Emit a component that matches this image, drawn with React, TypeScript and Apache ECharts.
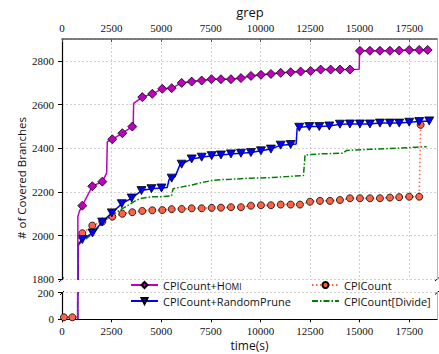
import React, { useEffect, useRef } from "react";
import * as echarts from "echarts";

// ---------- data (time in s, covered branches) ----------
const xMax = 18900;
const xInterval = 2500;
const mainYMin = 1800;
const mainYMax = 2900;
const lowYMin = 0;
const lowYMax = 200;
const yInterval = 200;

const seriesNames = ["CPICount+Homi", "CPICount+RandomPrune", "CPICount", "CPICount[Divide]"];

// points that carry a marker
const homiMarked: number[][] = [
  [1023, 2137], [1527, 2226], [2031, 2247], [2535, 2441], [3039, 2469], [3543, 2499],
  [4046, 2634], [4550, 2649], [5054, 2672], [5528, 2675], [6032, 2699], [6536, 2705],
  [7040, 2710], [7533, 2716], [8012, 2716], [8516, 2716], [9020, 2721], [9524, 2731],
  [10028, 2736], [10532, 2740], [11021, 2745], [11524, 2748], [12028, 2751], [12532, 2754],
  [13036, 2760], [13540, 2760], [14008, 2760], [14512, 2760], [15016, 2846], [15520, 2846],
  [16024, 2846], [16528, 2846], [16996, 2847], [17500, 2850], [18004, 2850], [18427, 2850],
];
// intermediate points of the curve (no marker)
const homiCurve: number[][] = [
  [790, 0], [800, 2087], [880, 2112], [2250, 2286], [2283, 2430],
  [3590, 2505], [3610, 2605], [14980, 2762], [14995, 2842],
];

const pruneMarked: number[][] = [
  [1023, 1982], [1537, 2012], [2026, 2062], [2509, 2104], [3013, 2146], [3512, 2172],
  [4006, 2206], [4510, 2215], [5014, 2218], [5528, 2263], [6032, 2327], [6536, 2351],
  [7040, 2359], [7543, 2366], [8012, 2369], [8516, 2374], [9020, 2377], [9524, 2380],
  [10028, 2388], [10532, 2396], [11021, 2414], [11524, 2417], [11958, 2496], [12462, 2499],
  [12966, 2499], [13470, 2502], [14008, 2510], [14512, 2511], [15016, 2511], [15520, 2511],
  [16024, 2515], [16528, 2515], [16996, 2515], [17500, 2519], [18004, 2522], [18508, 2525],
];
const pruneCurve: number[][] = [
  [790, 0], [810, 1960], [5300, 2220], [5400, 2258], [5700, 2270], [5950, 2325],
  [11800, 2419], [11850, 2490],
];

const countMarked: number[][] = [
  [100, 15], [520, 15], [1023, 2011], [1527, 2046], [2031, 2064], [2535, 2087], [3039, 2100],
  [3543, 2107], [4046, 2113], [4550, 2116], [5054, 2117], [5528, 2121], [6032, 2122],
  [6536, 2125], [7040, 2125], [7543, 2127], [8012, 2128], [8516, 2130], [9020, 2130],
  [9524, 2137], [10028, 2139], [10532, 2139], [11021, 2142], [11524, 2142], [11993, 2142],
  [12497, 2155], [13001, 2159], [13505, 2159], [14008, 2163], [14512, 2171], [15016, 2171],
  [15520, 2171], [16024, 2171], [16528, 2174], [16996, 2176], [17500, 2178], [18004, 2178],
  [18075, 2507],
];
const countCurve: number[][] = [[790, 15], [805, 1990]];

const divideCurve: number[][] = [
  [790, 0], [820, 1955], [1000, 1975], [1250, 1988], [1650, 2018], [2080, 2064],
  [2500, 2092], [2920, 2117], [3350, 2140], [3770, 2163], [4030, 2171], [4530, 2178],
  [5040, 2178], [5520, 2182], [5600, 2215], [6000, 2222], [6560, 2232], [7050, 2243],
  [7550, 2252], [8000, 2256], [8500, 2258], [9500, 2263], [10500, 2265], [11300, 2270],
  [12170, 2275], [12250, 2369], [13000, 2374], [14150, 2377], [14350, 2390], [15530, 2395],
  [16870, 2400], [17870, 2405], [18380, 2407],
];

function merge(marked: number[][], curve: number[][]) {
  const all = [
    ...marked.map((p) => ({ p, m: true })),
    ...curve.map((p) => ({ p, m: false })),
  ].sort((a, b) => a.p[0] - b.p[0]);
  return all.map((d) => (d.m ? { value: d.p } : { value: d.p, symbol: "none" }));
}

const SERIF = '"Liberation Serif", "Times New Roman", serif';
const SANS = '"Open Sans", "Noto Sans", sans-serif';

export default function App() {
  const ref = useRef<HTMLDivElement>(null);
  useEffect(() => {
    if (!ref.current) return;
    const chart = echarts.init(ref.current, undefined, { renderer: "svg" });

    const gridLeft = 62;
    const gridRight = 2;
    const dashed = { show: true, lineStyle: { color: "#c4c4c4", type: [2, 2] as any, width: 0.8 } };
    const tickLabel = { fontFamily: SERIF, fontSize: 11, color: "#111" };
    const xLabelFmt = (v: number) => (v % xInterval === 0 ? String(v) : "");
    const yLabelFmt = (v: number) => String(v);

    const styles = [
      {
        name: seriesNames[0], data: merge(homiMarked, homiCurve), color: "#BF00BF",
        symbol: "diamond", symbolSize: [9, 9], symbolRotate: 0, line: "solid", z: 5,
      },
      {
        name: seriesNames[1], data: merge(pruneMarked, pruneCurve), color: "#0000FF",
        symbol: "triangle", symbolSize: [9, 8], symbolRotate: 180, line: "solid", z: 4,
      },
      {
        name: seriesNames[2], data: merge(countMarked, countCurve), color: "#FF6347",
        symbol: "circle", symbolSize: 7, symbolRotate: 0, line: [1.5, 2.5], z: 3,
      },
      {
        name: seriesNames[3], data: merge([], divideCurve), color: "#008000",
        symbol: "none", symbolSize: 0, symbolRotate: 0, line: [6, 2, 1.5, 2], z: 2,
      },
    ];

    const series: any[] = [];
    [0, 1].forEach((gi) => {
      styles.forEach((s) => {
        series.push({
          type: "line",
          name: s.name,
          xAxisIndex: gi,
          yAxisIndex: gi,
          data: s.data,
          clip: true,
          z: s.z,
          color: s.color,
          symbol: s.symbol,
          symbolSize: s.symbolSize,
          symbolRotate: s.symbolRotate,
          showSymbol: s.symbol !== "none",
          lineStyle: { color: s.color, width: 1.5, type: s.line as any },
          itemStyle: { color: s.color, borderColor: "#000", borderWidth: 0.8 },
          emphasis: { disabled: true },
        });
      });
    });

    const legendBase = {
      orient: "vertical" as const,
      top: 279.5,
      padding: 0,
      itemWidth: 27,
      itemHeight: 7.5,
      itemGap: 5,
      textStyle: {
        fontFamily: SANS,
        fontSize: 11,
        color: "#111",
        rich: {
          n: { fontFamily: SANS, fontSize: 11, color: "#111", verticalAlign: "bottom" as const },
          sc: { fontFamily: SANS, fontSize: 8.5, color: "#111", verticalAlign: "bottom" as const },
        },
      },
      formatter: (name: string) =>
        name === "CPICount+Homi" ? "{n|CPICount+H}{sc|OMI}" : name,
    };

    chart.setOption({
      animation: false,
      backgroundColor: "#fff",
      grid: [
        { left: gridLeft, right: gridRight, top: 39, height: 240.3 },
        { left: gridLeft, right: gridRight, top: 292.7, height: 26.6 },
      ],
      legend: [
        { ...legendBase, left: 130, data: [seriesNames[0], seriesNames[1]] },
        {
          ...legendBase,
          left: 311,
          data: [
            seriesNames[2],
            { name: seriesNames[3], itemStyle: { opacity: 0 } },
          ],
        },
      ],
      xAxis: [
        {
          gridIndex: 0, type: "value", position: "top", min: 0, max: xMax, interval: xInterval,
          axisLine: { show: true, onZero: false, lineStyle: { color: "#555", width: 1.5 } },
          axisTick: { show: true, inside: true, length: 3, lineStyle: { color: "#555" } },
          axisLabel: { ...tickLabel, margin: 6, showMaxLabel: false, formatter: xLabelFmt },
          splitLine: dashed,
        },
        {
          gridIndex: 1, type: "value", position: "bottom", min: 0, max: xMax, interval: xInterval,
          axisLine: { show: true, onZero: false, lineStyle: { color: "#000", width: 1.2 } },
          axisTick: { show: true, length: 3, lineStyle: { color: "#000" } },
          axisLabel: { ...tickLabel, margin: 6, showMaxLabel: false, formatter: xLabelFmt },
          splitLine: { show: false },
          name: "time(s)", nameLocation: "middle", nameGap: 20,
          nameTextStyle: { fontFamily: SANS, fontSize: 12, color: "#111" },
        },
      ],
      yAxis: [
        {
          gridIndex: 0, type: "value", min: mainYMin, max: mainYMax, interval: yInterval,
          axisLine: { show: true, onZero: false, lineStyle: { color: "#000", width: 1.2 } },
          axisTick: { show: true, length: 4, lineStyle: { color: "#000" } },
          axisLabel: { ...tickLabel, margin: 8, showMaxLabel: false, formatter: yLabelFmt },
          splitLine: dashed,
        },
        {
          gridIndex: 1, type: "value", min: lowYMin, max: lowYMax, interval: yInterval,
          axisLine: { show: true, onZero: false, lineStyle: { color: "#000", width: 1.2 } },
          axisTick: { show: true, length: 4, lineStyle: { color: "#000" } },
          axisLabel: { ...tickLabel, margin: 8, formatter: yLabelFmt },
          splitLine: dashed,
        },
        {
          gridIndex: 0, type: "value", position: "right", min: mainYMin, max: mainYMax,
          axisLine: { show: true, onZero: false, lineStyle: { color: "#b5b5b5", width: 1 } },
          axisTick: { show: false }, axisLabel: { show: false }, splitLine: { show: false },
        },
        {
          gridIndex: 1, type: "value", position: "right", min: lowYMin, max: lowYMax,
          axisLine: { show: true, onZero: false, lineStyle: { color: "#b5b5b5", width: 1 } },
          axisTick: { show: false }, axisLabel: { show: false }, splitLine: { show: false },
        },
      ],
      graphic: [
        {
          type: "text", x: 250, y: 12,
          style: { text: "grep", font: `13px ${SANS}`, fill: "#111", textAlign: "center", textVerticalAlign: "middle" },
        },
        {
          type: "text", x: 21, y: 178, rotation: Math.PI / 2,
          style: { text: "# of Covered Branches", font: `11.5px ${SANS}`, fill: "#111", textAlign: "center", textVerticalAlign: "middle" },
        },
        { type: "line", shape: { x1: 59, y1: 282, x2: 64, y2: 277.5 }, style: { stroke: "#000", lineWidth: 1 } },
        { type: "line", shape: { x1: 60, y1: 295, x2: 64, y2: 291 }, style: { stroke: "#000", lineWidth: 1 } },
        { type: "line", shape: { x1: 435, y1: 281, x2: 439, y2: 277.5 }, style: { stroke: "#000", lineWidth: 1 } },
        { type: "line", shape: { x1: 435, y1: 294.5, x2: 439, y2: 291 }, style: { stroke: "#000", lineWidth: 1 } },
      ],
      series,
    });
    return () => chart.dispose();
  }, []);
  return (
    <div
      ref={ref}
      style={{ position: "absolute", left: 0, top: 0, width: 439, height: 354 }}
    />
  );
}
